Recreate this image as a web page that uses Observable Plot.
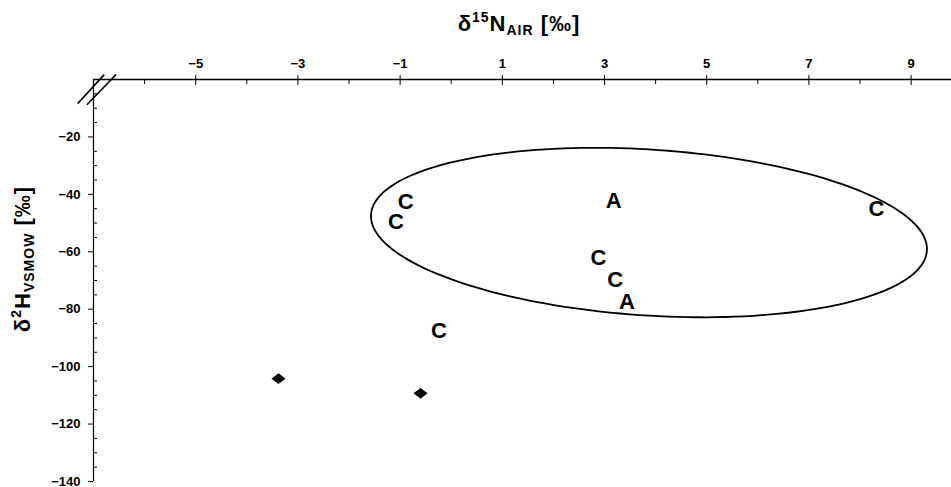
<!DOCTYPE html>
<html>
<head>
<meta charset="utf-8">
<script src="https://cdn.jsdelivr.net/npm/d3@7"></script>
<script src="https://cdn.jsdelivr.net/npm/@observablehq/plot@0.6"></script>
<style>
  body { margin: 0; background: #fff; }
  #chart svg { display: block; }
</style>
</head>
<body>
<div id="chart"></div>
<script>
// Samples, drawn as their class letter (C or A)
const sampleLabels = ["C", "C", "A", "C", "C", "C", "A", "C"];
const sampleN = [-0.89, -1.08, 3.18, 8.32, 2.88, 3.21, 3.44, -0.24];
const sampleH = [-42.6, -49.5, -42.2, -45.2, -62.2, -69.8, -77.3, -87.4];

// Reference points, drawn as diamonds
const refN = [-3.38, -0.60];
const refH = [-104.2, -109.3];

// Axis ticks
const xTicks = [-5, -3, -1, 1, 3, 5, 7, 9];
const xMinorTicks = [-6, -4, -2, 0, 2, 4, 6, 8];
const yTicks = [-20, -40, -60, -80, -100, -120, -140];
const yMinorTicks = [-5, -10, -15, -25, -30, -35, -45, -50, -55, -65, -70, -75,
  -85, -90, -95, -105, -110, -115, -125, -130, -135];

// Grouping ellipse: centre and two conjugate semi-axes, in data units
const ellipseCentre = [3.87, -53.3];
const ellipseAxisU = [5.44, -5.73];
const ellipseAxisV = [0, -28.95];

// Axis-break slashes at the origin corner
const breakMarks = [
  {n1: -7.31, h1: -8.4, n2: -6.79, h2: 1.7},
  {n1: -7.13, h1: -8.8, n2: -6.56, h2: 1.7}
];

const samples = sampleLabels.map((label, i) => ({label, n: sampleN[i], h: sampleH[i]}));
const refs = refN.map((n, i) => ({n, h: refH[i]}));

const ellipse = d3.range(0, 361, 2).map(deg => {
  const t = deg * Math.PI / 180;
  return {
    n: ellipseCentre[0] + ellipseAxisU[0] * Math.cos(t) + ellipseAxisV[0] * Math.sin(t),
    h: ellipseCentre[1] + ellipseAxisU[1] * Math.cos(t) + ellipseAxisV[1] * Math.sin(t)
  };
});

// Slightly flattened filled diamond
const flatDiamond = {
  draw(context, size) {
    const r = Math.sqrt(size / Math.PI);
    const w = r * 1.3, h = r;
    context.moveTo(0, -h);
    context.lineTo(w, 0);
    context.lineTo(0, h);
    context.lineTo(-w, 0);
    context.closePath();
  }
};

const font = "'Liberation Sans', Arial, Helvetica, sans-serif";

const chart = Plot.plot({
  width: 951,
  height: 487,
  marginLeft: 93,
  marginRight: 0,
  marginTop: 79,
  marginBottom: 6,
  x: {domain: [-7, 9.79]},
  y: {domain: [-140, 0]},
  style: {fontFamily: font, background: "#fff", color: "#000", overflow: "visible"},
  marks: [
    // axis lines
    Plot.ruleY([0], {stroke: "#000", strokeWidth: 1.5}),
    Plot.ruleX([-7], {stroke: "#000", strokeWidth: 1.2}),
    // top x axis
    Plot.axisX(xTicks, {anchor: "top", tickSize: 5, tickPadding: 7, fontSize: 13, fontWeight: "bold", label: null}),
    Plot.axisX([-7, ...xTicks], {anchor: "top", tickSize: -5, text: null, label: null}),
    Plot.axisX(xMinorTicks, {anchor: "top", tickSize: -4, text: null, label: null}),
    // left y axis
    Plot.axisY(yTicks, {anchor: "left", tickSize: 5, tickPadding: 8, fontSize: 13, fontWeight: "bold", label: null}),
    Plot.axisY(yMinorTicks, {anchor: "left", tickSize: -4, text: null, label: null}),
    // axis break
    Plot.link(breakMarks, {x1: "n1", y1: "h1", x2: "n2", y2: "h2", stroke: "#000", strokeWidth: 1.5}),
    // ellipse
    Plot.line(ellipse, {x: "n", y: "h", stroke: "#000", strokeWidth: 1.8, curve: "linear-closed"}),
    // samples
    Plot.text(samples, {x: "n", y: "h", text: "label", fontSize: 22, fontWeight: "bold", fill: "#000"}),
    // reference points
    Plot.dot(refs, {x: "n", y: "h", symbol: flatDiamond, r: 5.4, fill: "#000", stroke: "none"})
  ]
});

document.getElementById("chart").append(chart);

// Axis titles with super- and subscripts
const svg = d3.select(chart);
function title(sel, main, sup, base, sub, tail) {
  sel.attr("text-anchor", "middle")
    .attr("font-size", 22).attr("font-weight", "bold").attr("fill", "#000")
    .attr("letter-spacing", 1)
    .attr("font-family", font);
  sel.append("tspan").text(main);
  sel.append("tspan").attr("font-size", 14).attr("dy", -9).text(sup);
  sel.append("tspan").attr("dy", 9).text(base);
  sel.append("tspan").attr("font-size", 14).attr("dy", 4).text(sub);
  sel.append("tspan").attr("dy", -4).text(tail);
}
title(svg.append("text").attr("x", 519).attr("y", 31), "δ", "15", "N", "AIR", " [‰]");
title(svg.append("text").attr("transform", "translate(30,259) rotate(-90)"), "δ", "2", "H", "VSMOW", " [‰]");
</script>
</body>
</html>
